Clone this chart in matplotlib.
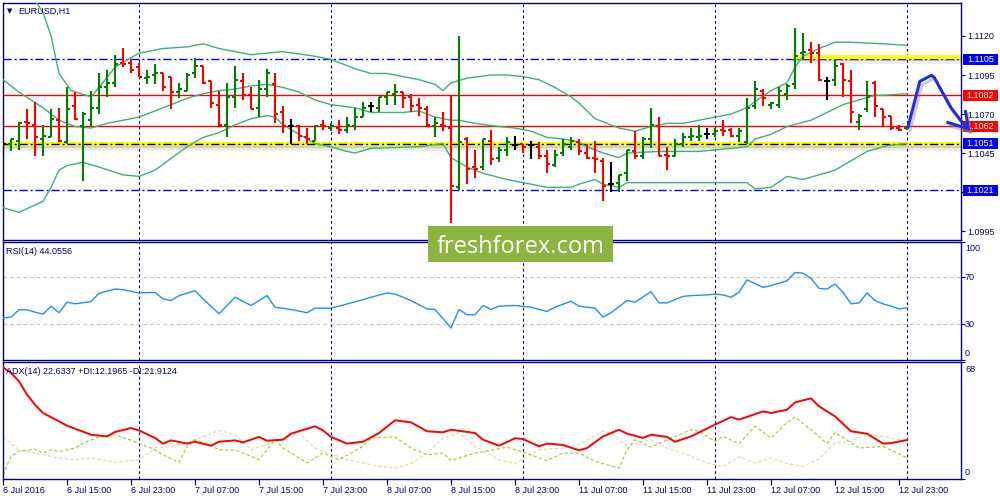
import numpy as np
import matplotlib
matplotlib.use('Agg')
import matplotlib.pyplot as plt
from matplotlib.patches import Rectangle
from matplotlib import transforms
import matplotlib.patheffects as pe

plt.rcParams['font.family'] = ['Liberation Sans', 'DejaVu Sans']

# ---------------- data ----------------
opens = [1.1051,1.1051,1.1053,1.1065,1.1063,1.1054,1.1055,1.1066,1.1052,1.1075,
 1.1062,1.1066,1.1074,1.1087,1.1090,1.1103,1.1103,1.1100,1.1093,1.1095,
 1.1096,1.1094,1.1084,1.1085,1.1096,1.1101,1.1091,1.1076,1.1063,1.1081,
 1.1091,1.1082,1.1074,1.1086,1.1089,1.1071,1.1062,1.1062,1.1055,1.1053,
 1.1063,1.1061,1.1061,1.1060,1.1062,1.1068,1.1075,1.1074,1.1081,1.1083,
 1.1084,1.1081,1.1076,1.1073,1.1062,1.1063,1.1061,1.1023,1.1054,1.1036,
 1.1036,1.1053,1.1042,1.1047,1.1050,1.1051,1.1050,1.1049,1.1043,1.1037,
 1.1045,1.1049,1.1052,1.1045,1.1042,1.1040,1.1025,1.1026,1.1032,1.1046,
 1.1043,1.1054,1.1062,1.1044,1.1043,1.1051,1.1055,1.1055,1.1057,1.1057,
 1.1060,1.1060,1.1056,1.1052,1.1075,1.1085,1.1076,1.1076,1.1083,1.1089,
 1.1109,1.1111,1.1109,1.1091,1.1092,1.1102,1.1091,1.1065,1.1073,1.1090,
 1.1073,1.1069,1.1061,1.1061]
highs = [1.1052,1.1054,1.1065,1.1073,1.1078,1.1063,1.1073,1.1074,1.1087,1.1084,
 1.1071,1.1085,1.1096,1.1098,1.1108,1.1112,1.1105,1.1103,1.1098,1.1102,
 1.1096,1.1094,1.1090,1.1096,1.1106,1.1101,1.1091,1.1085,1.1090,1.1101,
 1.1096,1.1087,1.1092,1.1099,1.1096,1.1075,1.1067,1.1063,1.1061,1.1063,
 1.1066,1.1064,1.1066,1.1068,1.1074,1.1078,1.1078,1.1081,1.1084,1.1089,
 1.1084,1.1083,1.1080,1.1075,1.1068,1.1071,1.1082,1.1120,1.1055,1.1047,
 1.1054,1.1060,1.1049,1.1055,1.1056,1.1051,1.1053,1.1052,1.1047,1.1047,
 1.1054,1.1055,1.1054,1.1051,1.1053,1.1042,1.1039,1.1031,1.1047,1.1059,
 1.1055,1.1074,1.1068,1.1049,1.1054,1.1058,1.1061,1.1063,1.1061,1.1061,
 1.1066,1.1061,1.1061,1.1080,1.1091,1.1086,1.1078,1.1087,1.1089,1.1125,
 1.1122,1.1116,1.1115,1.1094,1.1105,1.1103,1.1098,1.1070,1.1091,1.1091,
 1.1073,1.1069,1.1063,1.1062]
lows = [1.1043,1.1046,1.1047,1.1054,1.1043,1.1043,1.1055,1.1052,1.1051,1.1066,
 1.1027,1.1062,1.1070,1.1081,1.1087,1.1100,1.1096,1.1094,1.1089,1.1089,
 1.1085,1.1073,1.1080,1.1085,1.1093,1.1089,1.1074,1.1062,1.1055,1.1074,
 1.1079,1.1073,1.1068,1.1081,1.1064,1.1058,1.1051,1.1053,1.1051,1.1053,
 1.1060,1.1059,1.1057,1.1058,1.1060,1.1068,1.1071,1.1071,1.1076,1.1076,
 1.1074,1.1071,1.1069,1.1062,1.1055,1.1059,1.1000,1.1021,1.1025,1.1029,
 1.1034,1.1037,1.1039,1.1043,1.1047,1.1045,1.1041,1.1041,1.1032,1.1036,
 1.1043,1.1047,1.1044,1.1041,1.1032,1.1014,1.1020,1.1020,1.1027,1.1041,
 1.1041,1.1048,1.1043,1.1034,1.1043,1.1049,1.1053,1.1053,1.1054,1.1055,
 1.1056,1.1055,1.1052,1.1051,1.1073,1.1075,1.1073,1.1074,1.1079,1.1086,
 1.1105,1.1103,1.1091,1.1079,1.1088,1.1081,1.1064,1.1060,1.1071,1.1068,
 1.1062,1.1060,1.1059,1.1060]
closes = [1.1051,1.1054,1.1064,1.1064,1.1055,1.1056,1.1067,1.1053,1.1073,1.1067,
 1.1070,1.1074,1.1087,1.1090,1.1102,1.1102,1.1098,1.1094,1.1094,1.1096,
 1.1087,1.1084,1.1086,1.1095,1.1101,1.1090,1.1077,1.1063,1.1081,1.1092,
 1.1082,1.1073,1.1086,1.1096,1.1070,1.1062,1.1062,1.1056,1.1054,1.1062,
 1.1062,1.1062,1.1060,1.1063,1.1068,1.1074,1.1075,1.1081,1.1084,1.1084,
 1.1080,1.1075,1.1074,1.1063,1.1064,1.1062,1.1024,1.1052,1.1035,1.1035,
 1.1054,1.1041,1.1047,1.1052,1.1050,1.1049,1.1050,1.1043,1.1038,1.1044,
 1.1051,1.1053,1.1046,1.1042,1.1041,1.1024,1.1025,1.1031,1.1047,1.1043,
 1.1054,1.1063,1.1043,1.1043,1.1051,1.1055,1.1056,1.1056,1.1057,1.1059,
 1.1059,1.1056,1.1059,1.1074,1.1086,1.1080,1.1077,1.1085,1.1088,1.1107,
 1.1110,1.1109,1.1092,1.1091,1.1101,1.1092,1.1071,1.1069,1.1081,1.1075,
 1.1068,1.1061,1.1060,1.1062]

bb_up_x = [0,2,4,5,6,7,8.5,11,12,14,17,20,23,25,27,31,35,39,41,44,46,48,52,54,55,56,58,61,63,65,
           67,69,71,72,74,76,77,79,81,83,85,87,89,91,93,94,96,98,99,100,102,104,106,110,113]
bb_up = [1.1175,1.1160,1.1143,1.1135,1.1120,1.1096,1.1085,1.1081,1.1087,1.1100,1.1109,1.1112,1.1113,
         1.1115,1.1112,1.1108,1.1110,1.1107,1.1105,1.1099,1.1096,1.1096,1.1092,1.1089,1.1085,1.1090,
         1.1093,1.1095,1.1095,1.1094,1.1092,1.1087,1.1081,1.1077,1.1067,1.1063,1.1061,1.1059,1.1062,
         1.1064,1.1064,1.1066,1.1068,1.1070,1.1074,1.1078,1.1085,1.1090,1.1100,1.1107,1.1112,1.1116,
         1.1116,1.1115,1.1114]
bb_mid_x = [0,2,5,7,9,11,13,17,20,23,25,27,29,31,33,35,37,39,41,44,46,50,52,54,56,57,59,62,64,66,
            68,70,72,73,75,77,78,82,87,89,91,93,94,96,98,101,103,105,107,109,110,113]
bb_mid = [1.1092,1.1084,1.1074,1.1066,1.1062,1.1061,1.1064,1.1068,1.1074,1.1080,1.1083,1.1085,1.1086,
          1.1088,1.1089,1.1087,1.1084,1.1079,1.1076,1.1074,1.1071,1.1071,1.1072,1.1068,1.1066,1.1066,
          1.1064,1.1062,1.1061,1.1059,1.1055,1.1054,1.1052,1.1049,1.1045,1.1042,1.1045,1.1046,1.1046,
          1.1047,1.1048,1.1049,1.1054,1.1057,1.1062,1.1066,1.1071,1.1076,1.1079,1.1082,1.1082,1.1083]
bb_lo_x = [0,2,5,6,7,8,10,12,15,17,19,23,25,27,29,31,33,34,35,37,39,41,43,44,46,52,55,56,57,58,
           60,63,66,68,71,72,74,75,77,78,83,88,93,94,96,98,100,102,104,106,108,110,111,113]
bb_lo = [1.1010,1.1007,1.1014,1.1023,1.1034,1.1037,1.1039,1.1036,1.1031,1.1030,1.1034,1.1049,1.1055,
         1.1058,1.1063,1.1067,1.1069,1.1068,1.1063,1.1057,1.1051,1.1049,1.1046,1.1045,1.1048,1.1049,
         1.1051,1.1042,1.1039,1.1036,1.1032,1.1028,1.1025,1.1023,1.1023,1.1025,1.1028,1.1025,1.1023,
         1.1026,1.1026,1.1026,1.1026,1.1022,1.1023,1.1030,1.1028,1.1031,1.1034,1.1040,1.1046,1.1049,
         1.1050,1.1051]

rsi_x = [0,1,2,3,4,5,6,7,8,9,11,12,14,15,17,19,20,21,22,24,25,27,29,31,33,34,36,38,39,41,
         42,45,46,48,49,51,53,54,56,57,58,59,60,61,62,64,66,68,69,71,72,74,75,76,78,79,81,82,83,85,
         86,88,89,90,91,92,93,95,96,98,99,100,101,102,103,104,105,106,107,108,109,110,111,112,113]
rsi = [35.4,36.2,42.4,42.4,40.4,38.7,45.5,39.9,48.9,47.5,49.4,56.5,60.1,59.6,56.8,57.3,51.7,50.3,54.5,58.7,
       51.7,39.0,53.1,46.1,54.5,44.6,42.7,39.9,43.8,43.8,45.5,51.1,53.1,56.8,55.9,50.3,43.2,42.7,26.9,42.7,
       38.2,38.2,46.1,42.7,45.5,46.1,44.6,41.0,44.6,49.7,45.5,43.8,36.2,39.9,50.3,48.9,57.9,48.3,48.3,53.9,
       54.5,55.1,55.9,55.1,53.1,57.3,68.0,61.5,63.0,67.2,74.2,73.7,69.2,60.7,60.1,64.4,57.3,47.5,48.3,56.8,
       50.3,47.5,45.5,43.2,44.1]
rsi_levels = [70, 30]

adx_x = [0,1,2,3,4,5,7,8,9,11,13,14,16,17,19,20,21,23,24,26,27,29,30,32,33,35,36,39,40,41,
         43,45,47,49,51,53,55,56,59,60,62,64,65,67,68,70,72,73,75,77,78,80,81,83,84,86,89,91,92,95,
         96,98,99,101,102,104,106,108,110,111,113]
adx = [65.1,61.8,56.9,49.1,43.2,38.4,33.5,31.0,29.2,25.7,24.7,27.3,29.6,28.2,23.8,20.5,22.4,20.5,21.6,19.3,
       21.6,22.4,21.2,24.4,22.2,22.8,26.3,30.6,28.2,24.4,20.5,21.6,26.7,34.1,32.9,27.7,27.1,28.6,26.7,22.8,
       19.3,23.6,23.2,18.9,20.5,19.7,16.6,17.9,24.7,28.6,26.3,23.8,25.7,24.4,21.6,24.7,31.6,36.0,34.5,39.3,
       38.4,40.3,44.6,46.9,42.3,36.4,27.7,26.3,20.5,20.8,22.6]
pdi_x = [0,1,2,4,5,6,7,9,10,12,14,17,19,20,22,23,24,26,27,29,30,32,34,35,38,40,42,45,46,49,
         51,53,55,56,59,61,63,66,68,70,72,74,77,78,79,81,84,86,87,89,90,92,94,96,98,99,101,103,104,107,
         110,113]
pdi = [2.3,13.1,16.0,17.3,15.0,16.9,15.8,17.9,20.8,24.4,25.7,20.8,16.9,14.0,9.5,18.9,22.8,19.3,16.9,16.6,
       15.0,11.1,22.8,17.9,9.2,15.0,11.1,18.9,23.8,24.4,17.9,14.0,15.0,10.7,15.0,16.6,18.5,14.0,10.5,15.0,
       15.0,10.1,6.2,16.9,22.8,18.5,24.7,28.6,27.7,21.8,24.7,20.5,30.6,23.8,32.9,36.0,28.6,20.5,27.1,17.9,
       18.9,12.2]
mdi_x = [0,2,4,7,9,11,14,17,19,21,23,27,29,31,34,37,39,43,45,47,49,51,53,55,57,59,62,64,67,70,
         72,75,76,78,81,83,86,88,90,92,94,96,98,100,102,104,106,108,110,113]
mdi = [24.2,16.9,15.0,12.1,11.1,12.1,9.5,11.1,17.9,18.9,20.8,28.2,25.7,16.9,21.8,26.7,17.9,11.1,9.2,7.2,
       6.2,8.8,15.0,23.8,26.7,18.9,11.1,8.8,16.9,17.9,19.9,27.7,26.7,18.9,22.8,17.9,13.1,9.2,7.2,12.7,
       9.2,12.1,8.8,7.2,11.5,20.8,21.8,25.7,24.7,21.9]

blue_levels = [1.1105, 1.1021]
red_levels = [1.1082, 1.1062]
yellow_level = 1.1051
yellow_top_level = 1.11068
yellow_top_start = 98.6
price_ticks = [1.0995, 1.1020, 1.1045, 1.1070, 1.1095, 1.1120]
hidden_ticks = [1.1020]          # covered by the 1.1021 price box
box_levels = [1.1105, 1.1082, 1.1062, 1.1051, 1.1021]
box_colors = ['#0000ff', '#ff0000', '#ff0000', '#0000ff', '#0000ff']
time_ticks = list(range(0, 113, 8))
time_labels = ['6 Jul 2016', '6 Jul 15:00', '6 Jul 23:00', '7 Jul 07:00', '7 Jul 15:00',
               '7 Jul 23:00', '8 Jul 07:00', '8 Jul 15:00', '8 Jul 23:00', '11 Jul 07:00',
               '11 Jul 15:00', '11 Jul 23:00', '12 Jul 07:00', '12 Jul 15:00', '12 Jul 23:00']
grid_x = [17, 41, 65, 89, 113]
arrow_x = [113.1, 114.6, 116.05, 116.4, 117.2, 118.5, 119.8, 120.7]
arrow_y = [1.10613, 1.10909, 1.10948, 1.10935, 1.10859, 1.10740, 1.10653, 1.10605]
barb1_x, barb1_y = [118.06, 120.7], [1.10646, 1.10605]
barb2_x, barb2_y = [120.3, 120.7], [1.10718, 1.10605]

# ---------------- layout ----------------
W, H = 1000, 500
navy = '#000080'
fig = plt.figure(figsize=(W / 100, H / 100), dpi=100)
fig.patch.set_facecolor('white')

def rect(top, bottom, left=2.7, right=960.7):
    return [left / W, 1 - bottom / H, (right - left) / W, (bottom - top) / H]

ax = fig.add_axes(rect(2.7, 240.0))
ar = fig.add_axes(rect(242.3, 359.5))
ad = fig.add_axes(rect(362.3, 478.7))
XL = (-0.04, 119.71)
PPX = 0.0000641  # price per pixel

for a in (ax, ar, ad):
    for s in a.spines.values():
        s.set_color(navy)
        s.set_linewidth(1.0)
    a.set_facecolor('white')
    for gx in grid_x:
        a.axvline(gx, color=navy, lw=0.8, ls=(0, (2.5, 2.5)), zorder=1)
    a.yaxis.tick_right()
    a.tick_params(axis='y', direction='out', length=3, width=0.8, colors=navy,
                  labelsize=6.5, pad=1.5, labelcolor=navy)

ax.tick_params(axis='x', bottom=False, labelbottom=False)
ar.tick_params(axis='x', bottom=False, labelbottom=False)

# ---- main price panel ----
def shadow_fx():
    return [pe.SimpleLineShadow(offset=(0, -2.0), shadow_color='#707070', alpha=0.28, linewidth=3.0),
            pe.SimpleLineShadow(offset=(0, -3.6), shadow_color='#707070', alpha=0.12, linewidth=3.0),
            pe.Normal()]

for v in blue_levels:
    ax.axhline(v, color='#0000ff', lw=1.0, ls=(0, (6, 2, 1.5, 2)), zorder=2)
for v in red_levels:
    ax.axhline(v, color='#ff0000', lw=1.0, zorder=2)
ax.axhline(yellow_level, color='#ffff00', lw=3.0, zorder=2, path_effects=shadow_fx())
ax.axhline(yellow_level, color='black', lw=1.0, ls=(0, (6, 2, 1.5, 2)), zorder=2.5)
ax.plot([yellow_top_start, XL[1]], [yellow_top_level] * 2, color='#ffff00', lw=3.0,
        zorder=2, path_effects=shadow_fx(), solid_capstyle='butt')

bb_col = '#3cb371'
ax.plot(bb_up_x, bb_up, color=bb_col, lw=1.0, zorder=3)
ax.plot(bb_mid_x, bb_mid, color=bb_col, lw=1.0, zorder=3)
ax.plot(bb_lo_x, bb_lo, color=bb_col, lw=1.0, zorder=3)

o = np.array(opens); h = np.array(highs); l = np.array(lows); c = np.array(closes)
idx = np.arange(len(o))
cols = ['#008000' if cc > oo + 1e-7 else ('#ff0000' if cc < oo - 1e-7 else 'black')
        for oo, cc in zip(o, c)]
ax.vlines(idx, l, h, colors=cols, lw=1.5, zorder=4)
ax.hlines(o, idx - 0.375, idx, colors=cols, lw=1.5, zorder=4)
ax.hlines(c, idx, idx + 0.375, colors=cols, lw=1.5, zorder=4)

ax.set_yticks(price_ticks)
ax.set_yticklabels(['' if v in hidden_ticks else '%.4f' % v for v in price_ticks])

trans = transforms.blended_transform_factory(fig.transFigure, ax.transData)
for v, col in zip(box_levels, box_colors):
    ax.add_patch(Rectangle((963 / W, v - 5.5 * PPX), 35 / W, 11 * PPX, transform=trans,
                           facecolor=col, edgecolor='none', clip_on=False, zorder=10))
    ax.text(980.5 / W, v, '%.4f' % v, transform=trans, color='white', ha='center',
            va='center', fontsize=6.5, clip_on=False, zorder=11)

arrow_col = '#1f2fe0'
afx = [pe.SimpleLineShadow(offset=(1.5, -2.5), shadow_color='#808080', alpha=0.4), pe.Normal()]
for xs, ys in ((arrow_x, arrow_y), (barb1_x, barb1_y), (barb2_x, barb2_y)):
    ax.plot(xs, ys, color=arrow_col, lw=2.2, clip_on=False, zorder=12,
            solid_capstyle='round', solid_joinstyle='round', path_effects=afx)

ax.set_xlim(*XL)
ax.set_ylim(1.1120 - (240.0 - 36) * PPX, 1.1120 + (36 - 2.7) * PPX)

fig.text(7 / W, 1 - 11 / H, '\u25bc', fontsize=5, color=navy, va='center', ha='left',
         family='DejaVu Sans')
fig.text(18 / W, 1 - 11 / H, 'EURUSD,H1', fontsize=6.5, color=navy, va='center', ha='left')

# ---- RSI panel ----
ar.plot(rsi_x, rsi, color='#1e90ff', lw=1.0, zorder=3)
for v in rsi_levels:
    ar.axhline(v, color='#c0c0c0', lw=0.8, ls=(0, (3, 3)), zorder=2)
ar.set_xlim(*XL)
ar.set_ylim(0, 100)
ar.set_yticks([0, 30, 70, 100])
ar.set_yticklabels([])
tr_r = transforms.blended_transform_factory(fig.transFigure, ar.transData)
for lab, ypos in (('100', 94.5), ('70', 70), ('30', 30), ('0', 5)):
    ar.text(965 / W, ypos, lab, transform=tr_r, fontsize=6.5, color=navy, va='center',
            ha='left', clip_on=False)
fig.text(6 / W, 1 - 252 / H, 'RSI(14) 44.0556', fontsize=6.5, color=navy, va='center', ha='left')

# ---- ADX panel ----
ad.plot(mdi_x, mdi, color='#f3cf9f', lw=0.8, ls=(0, (3, 2)), zorder=2)
ad.plot(pdi_x, pdi, color='#9acd32', lw=0.8, ls=(0, (3, 2)), zorder=2)
ad.plot(adx_x, adx, color='#ff0000', lw=1.4, zorder=3)
ad.set_xlim(*XL)
ad.set_ylim(0, 68)
ad.set_yticks([0, 68])
ad.set_yticklabels([])
tr_a = transforms.blended_transform_factory(fig.transFigure, ad.transData)
for lab, ypos in (('68', 63.9), ('0', 3.7)):
    ad.text(965 / W, ypos, lab, transform=tr_a, fontsize=6.5, color=navy, va='center',
            ha='left', clip_on=False)
fig.text(6 / W, 1 - 372 / H, 'ADX(14) 22.6337 +DI:12.1965 -DI:21.9124', fontsize=6.5,
         color=navy, va='center', ha='left')

ad.set_xticks(time_ticks)
ad.set_xticklabels(time_labels, ha='left')
ad.tick_params(axis='x', direction='out', length=4, width=0.8, colors=navy, labelsize=6.5,
               pad=1.0, labelcolor=navy)

# ---- watermark ----
fig.add_artist(Rectangle((428 / W, 1 - 262 / H), 185 / W, 36 / H, transform=fig.transFigure,
                         facecolor='#8db441', edgecolor='none', zorder=20))
fig.text(520.5 / W, 1 - 253 / H, 'freshforex.com', fontsize=17, family='Open Sans',
         color='white', ha='center', va='baseline', zorder=21)

fig.savefig('out.png', dpi=100, facecolor='white')
